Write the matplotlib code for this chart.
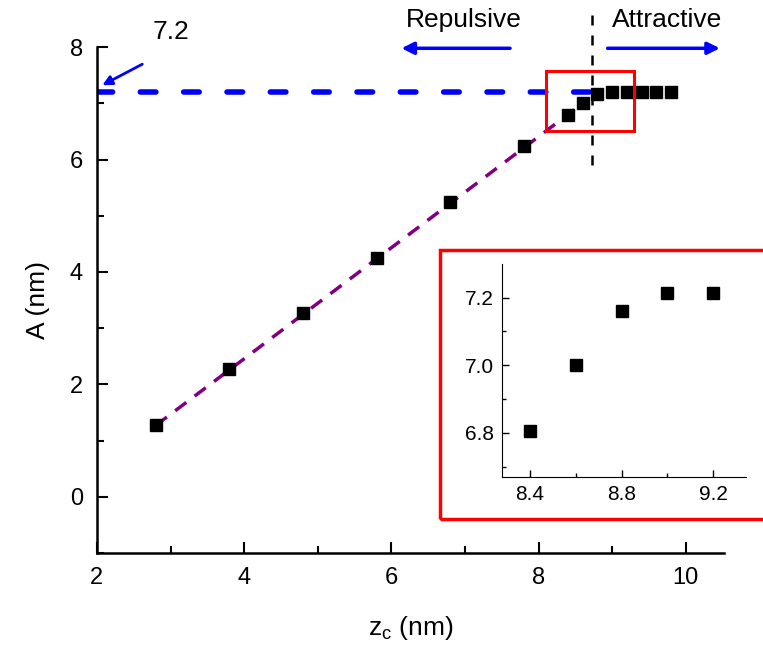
import matplotlib
matplotlib.use("Agg")
import matplotlib.pyplot as plt
from matplotlib.patches import Rectangle

plt.rcParams['font.family'] = ['Liberation Sans', 'DejaVu Sans']

# main data
zc = [2.8, 3.8, 4.8, 5.8, 6.8, 7.8, 8.4, 8.6, 8.8, 9.0, 9.2, 9.4, 9.6, 9.8]
amp = [1.27, 2.27, 3.27, 4.25, 5.25, 6.25, 6.8, 7.0, 7.16, 7.21, 7.21, 7.21, 7.21, 7.21]

# linear guide (repulsive regime) and plateau
fit_x = [2.8, 8.63]
fit_y = [1.27, 7.03]
plateau_x = [2.0, 8.72]
plateau_y = [7.2, 7.2]
boundary_x = 8.72

# inset data
ins_x = [8.4, 8.6, 8.8, 9.0, 9.2]
ins_y = [6.805, 7.0, 7.16, 7.213, 7.213]


def main():
    fig = plt.figure(figsize=(7.63, 6.46), dpi=100)
    ax = fig.add_axes([0.127, 0.144, 0.822, 0.783])

    ax.plot(fit_x, fit_y, ls=(0, (4, 3)), color="purple", lw=2.5, zorder=2)
    ax.plot(plateau_x, plateau_y, ls=(0, (2.8, 5.0)), color="blue", lw=4,
            dash_capstyle="round", zorder=2)
    ax.plot([boundary_x, boundary_x], [5.9, 8.75], ls=(0, (4, 4)), color="black",
            lw=1.8, clip_on=False, zorder=3)
    ax.plot(zc, amp, "s", color="black", ms=8.5, zorder=4)

    ax.set_xlim(2, 10.52)
    ax.set_ylim(-1, 8)
    ax.set_xticks([2, 4, 6, 8, 10])
    ax.set_xticks([3, 5, 7, 9], minor=True)
    ax.set_yticks([0, 2, 4, 6, 8])
    ax.set_yticks([-1, 1, 3, 5, 7], minor=True)
    for s in ("top", "right"):
        ax.spines[s].set_visible(False)
    for s in ("left", "bottom"):
        ax.spines[s].set_linewidth(1.8)
    ax.tick_params(which="major", direction="in", length=8, width=1.5,
                   labelsize=17, pad=10)
    ax.tick_params(which="minor", direction="in", length=5, width=1.5)
    ax.set_xlabel("z$_\\mathregular{c}$ (nm)", fontsize=19, labelpad=18)
    ax.set_ylabel("A (nm)", fontsize=19, labelpad=14)

    # zoom rectangle
    ax.add_patch(Rectangle((8.1, 6.5), 1.2, 1.08, fill=False, ec="red",
                           lw=2.2, zorder=5))

    # annotations
    ax.annotate("", xy=(2.04, 7.3), xytext=(2.65, 7.72),
                arrowprops=dict(arrowstyle="-|>", color="blue", lw=2,
                                mutation_scale=14), annotation_clip=False)
    ax.text(3.0, 8.06, "7.2", fontsize=19, ha="center", va="bottom")
    ax.annotate("", xy=(6.1, 7.98), xytext=(7.65, 7.98),
                arrowprops=dict(arrowstyle="-|>", color="blue", lw=2.5,
                                mutation_scale=18), annotation_clip=False)
    ax.text(6.98, 8.27, "Repulsive", fontsize=19, ha="center", va="bottom")
    ax.annotate("", xy=(10.5, 7.98), xytext=(8.9, 7.98),
                arrowprops=dict(arrowstyle="-|>", color="blue", lw=2.5,
                                mutation_scale=18), annotation_clip=False)
    ax.text(9.75, 8.27, "Attractive", fontsize=19, ha="center", va="bottom")

    # inset frame
    fig.patches.append(Rectangle((0.577, 0.1966), 0.43, 0.4164, fill=False,
                                 ec="red", lw=2.5, transform=fig.transFigure,
                                 figure=fig))

    ins = fig.add_axes([0.658, 0.2616, 0.320, 0.330])
    ins.plot(ins_x, ins_y, "s", color="black", ms=8.5)
    ins.set_xlim(8.278, 9.344)
    ins.set_ylim(6.669, 7.3)
    ins.set_xticks([8.4, 8.8, 9.2])
    ins.set_xticks([8.6, 9.0], minor=True)
    ins.set_yticks([6.8, 7.0, 7.2])
    ins.set_yticks([6.7, 6.9, 7.1], minor=True)
    ins.set_xticklabels(["8.4", "8.8", "9.2"])
    ins.set_yticklabels(["6.8", "7.0", "7.2"])
    for s in ("top", "right"):
        ins.spines[s].set_visible(False)
    ins.tick_params(which="major", direction="in", length=5, width=1,
                    labelsize=15, pad=6)
    ins.tick_params(which="minor", direction="in", length=3, width=1)

    fig.savefig("out.png", dpi=100)
    return 0


if __name__ == "__main__":
    main()
